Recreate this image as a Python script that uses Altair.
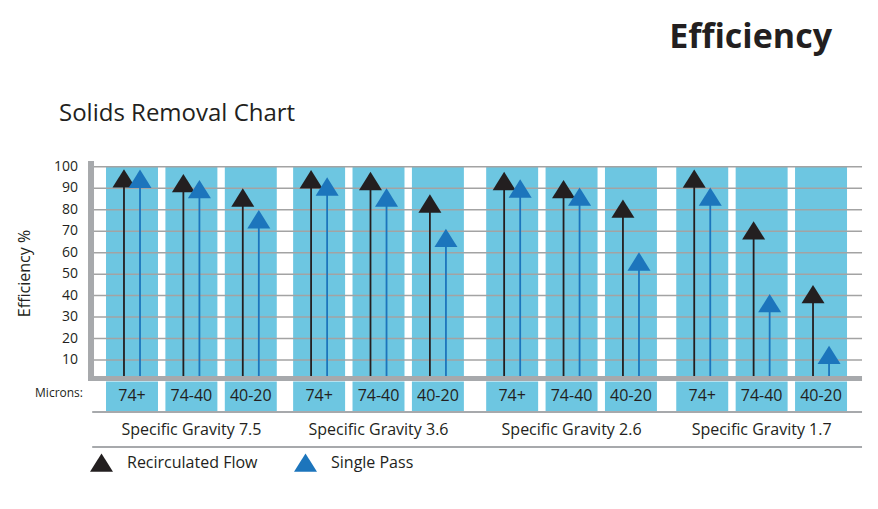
import altair as alt
import pandas as pd

# ---------------- data ----------------
groups = ["Specific Gravity 7.5", "Specific Gravity 3.6", "Specific Gravity 2.6", "Specific Gravity 1.7"]
microns = ["74+", "74-40", "40-20"]
recirculated = [94.6, 92.4, 85.7, 94.2, 93.4, 82.9, 93.4, 89.6, 80.5, 94.5, 70.4, 40.7]
single_pass = [94.4, 89.6, 75.6, 90.8, 85.7, 66.9, 89.9, 86.1, 55.9, 86.1, 36.5, 12.4]
series_names = ["Recirculated Flow", "Single Pass"]
y_ticks = [10, 20, 30, 40, 50, 60, 70, 80, 90, 100]
title_text = ["Efficiency"]
subtitle_text = ["Solids Removal Chart"]
y_title = ["Efficiency %"]
microns_label = ["Microns:"]

# ---------------- styling / layout ----------------
FONT = "Open Sans"
TEXT = "#231F20"
BAND = "#6DC6E1"
GRID = "#A3A3A3"
AXIS = "#A7A9AC"
SERIES_COLORS = ["#231F20", "#1C75BC"]
TRI = "M0,-0.8L1,0.8L-1,0.8Z"

GROUP_START = [0, 3.15, 6.4, 9.6]   # group offsets in slot units
HALF = 0.4375    # half band width
OFF = 0.135      # stem offset from band centre

W, H = 862, 493
PXX, PXY = 59.4, 2.147
XMIN = -124 / PXX
XMAX = XMIN + W / PXX
YMAX = 373.5 / PXY
YMIN = YMAX - H / PXY

GRID_L, GRID_R = -0.64, 12.29
AXIS_X = -0.69
BASE = 1.45

xs = alt.Scale(domain=[XMIN, XMAX], nice=False, zero=False)
ys = alt.Scale(domain=[YMIN, YMAX], nice=False, zero=False)


def X(f):
    return alt.X(f, type="quantitative", scale=xs, axis=None)


def X2(f):
    return alt.X2(f)


def Y(f):
    return alt.Y(f, type="quantitative", scale=ys, axis=None)


def Y2(f):
    return alt.Y2(f)


# ---------------- tables ----------------
band_rows, pt_rows = [], []
k = 0
for gi, g in enumerate(groups):
    for mi, m in enumerate(microns):
        pos = GROUP_START[gi] + mi
        band_rows.append(dict(group=g, micron=m, pos=pos, x1=pos - HALF, x2=pos + HALF,
                              top=100, bot=0, mtop=-0.23, mbot=-13.7, mlab=-6.6))
        for si, (s, vals) in enumerate(zip(series_names, [recirculated, single_pass])):
            pt_rows.append(dict(series=s, value=vals[k], xp=pos + (-OFF if si == 0 else OFF),
                                base=BASE, order=si))
        k += 1
bands = pd.DataFrame(band_rows)
pts = pd.DataFrame(pt_rows)

grid = pd.DataFrame(dict(y=y_ticks, x1=GRID_L, x2=GRID_R, lx=(78 - 132) / PXX))

grp = pd.DataFrame(dict(group=groups, x=[GROUP_START[gi] + 1 for gi in range(len(groups))], y=-22.6))

hlines = pd.DataFrame(dict(y=[-14.2, -30.5], x1=-0.67, x2=GRID_R))

# ---------------- layers ----------------
band_layer = alt.Chart(bands).mark_rect(color=BAND).encode(
    x=X("x1"), x2=X2("x2"), y=Y("bot"), y2=Y2("top"))

micron_band = alt.Chart(bands).mark_rect(color=BAND).encode(
    x=X("x1"), x2=X2("x2"), y=Y("mbot"), y2=Y2("mtop"))

micron_text = alt.Chart(bands).mark_text(font=FONT, fontSize=16, color=TEXT, baseline="middle").encode(
    x=X("pos"), y=Y("mlab"), text="micron:N")

grid_layer = alt.Chart(grid).mark_rule(color=GRID, strokeWidth=1.5).encode(
    x=X("x1"), x2=X2("x2"), y=Y("y"))

tick_text = alt.Chart(grid).mark_text(font=FONT, fontSize=14, color=TEXT, align="right",
                                      baseline="middle").encode(
    x=X("lx"), y=Y("y"), text="y:Q")

left_axis = alt.Chart(pd.DataFrame(dict(x=[AXIS_X], y1=[0.3], y2=[102.7]))).mark_rule(
    color=AXIS, strokeWidth=6).encode(x=X("x"), y=Y("y1"), y2=Y2("y2"))

base_axis = alt.Chart(pd.DataFrame(dict(y=[BASE], x1=[-0.74], x2=[GRID_R]))).mark_rule(
    color=AXIS, strokeWidth=5).encode(x=X("x1"), x2=X2("x2"), y=Y("y"))

hline_layer = alt.Chart(hlines).mark_rule(color=AXIS, strokeWidth=2).encode(
    x=X("x1"), x2=X2("x2"), y=Y("y"))

color = alt.Color("series:N", scale=alt.Scale(domain=series_names, range=SERIES_COLORS),
                  legend=alt.Legend(title=None, orient="none", legendX=82, legendY=443,
                                    direction="horizontal", symbolType=TRI, symbolSize=529,
                                    symbolStrokeWidth=0, symbolOpacity=1, labelFont=FONT,
                                    labelFontSize=16, labelColor=TEXT, labelOffset=14,
                                    columnPadding=36, padding=0))

stems = alt.Chart(pts).mark_rule(strokeWidth=1.8).encode(
    x=X("xp"), y=Y("base"), y2=Y2("value"), color=color)

tris = alt.Chart(pts).mark_point(shape=TRI, filled=True, size=529, opacity=1, strokeWidth=0).encode(
    x=X("xp"), y=Y("value"), color=color)

grp_text = alt.Chart(grp).mark_text(font=FONT, fontSize=16, color=TEXT, baseline="middle").encode(
    x=X("x"), y=Y("y"), text="group:N")

microns_text = alt.Chart(pd.DataFrame(dict(t=microns_label, x=[(83 - 132) / PXX], y=[-5.4]))).mark_text(
    font=FONT, fontSize=12, color=TEXT, align="right", baseline="middle").encode(
    x=X("x"), y=Y("y"), text="t:N")

ytitle = alt.Chart(pd.DataFrame(dict(t=y_title, x=[(25 - 132) / PXX], y=[50.3]))).mark_text(
    font=FONT, fontSize=16, color=TEXT, angle=270, baseline="middle").encode(
    x=X("x"), y=Y("y"), text="t:N")

main_title = alt.Chart(pd.DataFrame(dict(t=title_text))).mark_text(
    font=FONT, fontSize=34, fontWeight="bold", color=TEXT, align="right", baseline="alphabetic").encode(
    x=alt.value(824), y=alt.value(40), text="t:N")

sub_title = alt.Chart(pd.DataFrame(dict(t=subtitle_text))).mark_text(
    font=FONT, fontSize=24, color=TEXT, align="left", baseline="alphabetic").encode(
    x=alt.value(51), y=alt.value(112.7), text="t:N")

chart = alt.layer(
    band_layer, grid_layer, micron_band, hline_layer, stems, left_axis, base_axis, tris,
    micron_text, tick_text, grp_text, microns_text, ytitle, main_title, sub_title
).properties(width=W, height=H, padding=0).configure(font=FONT).configure_view(
    stroke="transparent", strokeWidth=0)

chart.save("out.html", embed_options={"renderer": "svg", "actions": False})
